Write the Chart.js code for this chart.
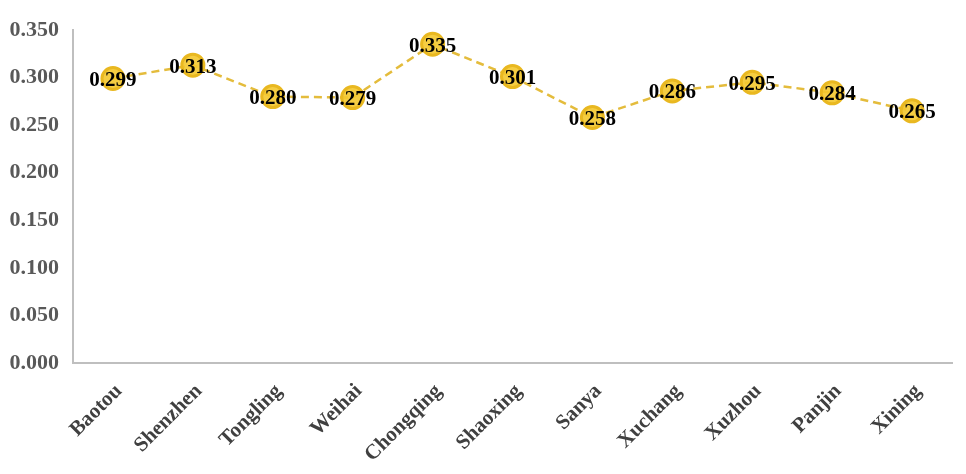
<!DOCTYPE html>
<html>
<head>
<meta charset="utf-8">
<script src="https://cdn.jsdelivr.net/npm/chart.js@4/dist/chart.umd.min.js"></script>
<style>
  html, body { margin: 0; padding: 0; background: #fff; }
</style>
</head>
<body>
<canvas id="cityChart" width="966" height="474"></canvas>
<script>
// Data
const cities = ['Baotou', 'Shenzhen', 'Tongling', 'Weihai', 'Chongqing', 'Shaoxing', 'Sanya', 'Xuchang', 'Xuzhou', 'Panjin', 'Xining'];
const scores = [0.299, 0.313, 0.280, 0.279, 0.335, 0.301, 0.258, 0.286, 0.295, 0.284, 0.265];
const yTicks = [0, 0.05, 0.10, 0.15, 0.20, 0.25, 0.30, 0.35];

// Labels drawn on top of each point
const pointLabels = {
    id: 'pointLabels',
    afterDatasetsDraw(chart) {
        const ctx = chart.ctx;
        const meta = chart.getDatasetMeta(0);
        ctx.save();
        ctx.font = 'bold 21px "Liberation Serif"';
        ctx.fillStyle = '#000';
        ctx.textAlign = 'center';
        ctx.textBaseline = 'middle';
        meta.data.forEach((pt, i) => {
            ctx.fillText(scores[i].toFixed(3), pt.x, pt.y + 2);
        });
        ctx.restore();
    }
};

const ctx = document.getElementById('cityChart').getContext('2d');
new Chart(ctx, {
    type: 'line',
    data: {
        labels: cities,
        datasets: [{
            data: scores,
            borderColor: '#E4BC3C',
            borderWidth: 2.5,
            borderDash: [8, 5],
            pointRadius: 11,
            pointBorderWidth: 3,
            pointBackgroundColor: 'rgba(244, 200, 45, 0.9)',
            pointBorderColor: '#E9B820',
            tension: 0,
            fill: false
        }]
    },
    options: {
        responsive: false,
        animation: false,
        layout: { padding: { top: 30, right: 6, left: 0, bottom: 0 } },
        plugins: { legend: { display: false }, tooltip: { enabled: false } },
        scales: {
            y: {
                min: 0,
                max: 0.35,
                afterBuildTicks: (axis) => { axis.ticks = yTicks.map(v => ({ value: v })); },
                afterFit: (axis) => { axis.width = 73; },
                grid: { display: false, drawTicks: false },
                border: { color: '#BFBFBF', width: 2 },
                ticks: {
                    padding: 14,
                    color: '#595959',
                    font: { family: '"Liberation Serif"', size: 22, weight: 'bold' },
                    callback: (v) => Number(v).toFixed(3)
                }
            },
            x: {
                offset: true,
                afterFit: (axis) => { axis.paddingLeft = 0; axis.height = 111; },
                grid: { display: false, drawTicks: false, offset: true },
                border: { color: '#BFBFBF', width: 2 },
                ticks: {
                    padding: 16,
                    labelOffset: 6,
                    maxRotation: 45,
                    minRotation: 45,
                    color: '#404040',
                    font: { family: '"Liberation Serif"', size: 21, weight: 'bold' }
                }
            }
        }
    },
    plugins: [pointLabels]
});
</script>
</body>
</html>
